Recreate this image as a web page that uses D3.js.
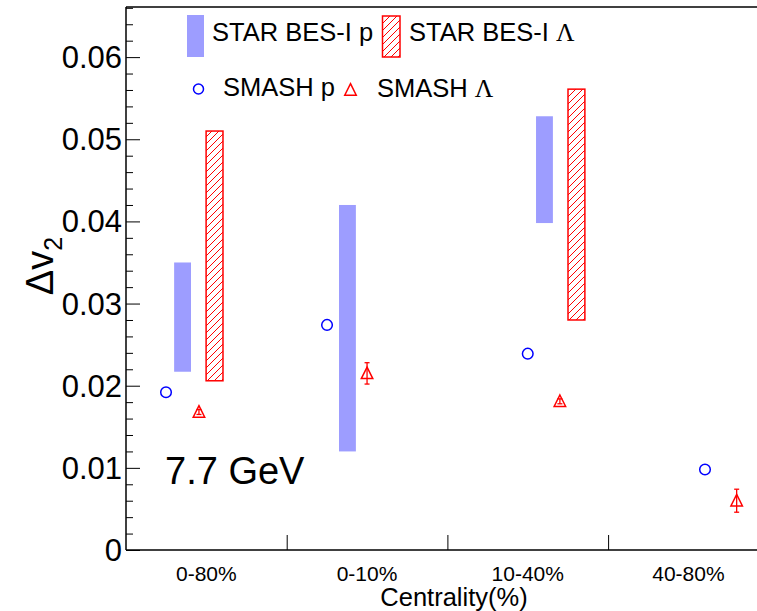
<!DOCTYPE html>
<html>
<head>
<meta charset="utf-8">
<script src="https://cdn.jsdelivr.net/npm/d3@7"></script>
<style>
  html, body { margin: 0; padding: 0; background: #fff; }
  svg { display: block; }
  text { font-family: "Liberation Sans", Arial, sans-serif; fill: #000; }
</style>
</head>
<body>
<svg id="chart" width="757" height="611"></svg>
<script>
// ---------------- data ----------------
const categories = ["0-80%", "0-10%", "10-40%", "40-80%"];
const yTicks = [0, 0.01, 0.02, 0.03, 0.04, 0.05, 0.06];

// STAR BES-I proton (band: low/high), x in category-axis units
const starP_x  = [0.352, 1.378, 2.604];
const starP_lo = [0.0217, 0.0120, 0.0398];
const starP_hi = [0.0350, 0.0420, 0.0528];

// STAR BES-I Lambda (hatched band)
const starL_x  = [0.551, 2.803];
const starL_lo = [0.0206, 0.0280];
const starL_hi = [0.0510, 0.0561];

// SMASH proton
const smashP_x = [0.249, 1.251, 2.500, 3.603];
const smashP_y = [0.0192, 0.0274, 0.0239, 0.0098];

// SMASH Lambda (with statistical error)
const smashL_x   = [0.454, 1.500, 2.700, 3.800];
const smashL_y   = [0.0168, 0.0215, 0.0181, 0.0060];
const smashL_err = [0.0003, 0.0013, 0.0003, 0.0014];

// ---------------- layout ----------------
const svg = d3.select("#chart");
const mLeft = 126, mBottom = 550, mTop = 7;
const x = d3.scaleLinear().domain([0, 4]).range([mLeft, mLeft + 4 * 160.7]);
const y = d3.scaleLinear().domain([0, 0.0661]).range([mBottom, mTop]);
const barW = 0.105;
const blue = "#9d9dff";
const red = "#ff0000";

// hatch pattern
const defs = svg.append("defs");
const pat = defs.append("pattern")
  .attr("id", "hatch").attr("patternUnits", "userSpaceOnUse")
  .attr("width", 7).attr("height", 7);
pat.append("path").attr("d", "M-1,8 L8,-1 M-1,1 L1,-1 M6,8 L8,6")
  .attr("stroke", red).attr("stroke-width", 1);

// STAR p bands
svg.append("g").selectAll("rect").data(starP_x).join("rect")
  .attr("x", (d) => x(d - barW / 2))
  .attr("width", (d) => x(d + barW / 2) - x(d - barW / 2))
  .attr("y", (d, i) => y(starP_hi[i]))
  .attr("height", (d, i) => y(starP_lo[i]) - y(starP_hi[i]))
  .attr("fill", blue);

// STAR Lambda hatched bands
svg.append("g").selectAll("rect").data(starL_x).join("rect")
  .attr("x", (d) => x(d - barW / 2))
  .attr("width", (d) => x(d + barW / 2) - x(d - barW / 2))
  .attr("y", (d, i) => y(starL_hi[i]))
  .attr("height", (d, i) => y(starL_lo[i]) - y(starL_hi[i]))
  .attr("fill", "url(#hatch)").attr("stroke", red).attr("stroke-width", 1.5);

// SMASH p circles
svg.append("g").selectAll("circle").data(smashP_x).join("circle")
  .attr("cx", (d) => x(d)).attr("cy", (d, i) => y(smashP_y[i]))
  .attr("r", 5.3).attr("fill", "none").attr("stroke", "#0000ff").attr("stroke-width", 1.5);

// SMASH Lambda error bars + triangles
const triPath = (cx, cy, s) => {
  const h = s * 1.0;
  return `M${cx},${cy - h * 0.55} L${cx + s / 2},${cy + h * 0.45} L${cx - s / 2},${cy + h * 0.45} Z`;
};
const gL = svg.append("g");
smashL_x.forEach((d, i) => {
  const cx = x(d), cy = y(smashL_y[i]);
  const yt = y(smashL_y[i] + smashL_err[i]), yb = y(smashL_y[i] - smashL_err[i]);
  gL.append("line").attr("x1", cx).attr("x2", cx).attr("y1", yt).attr("y2", yb)
    .attr("stroke", red).attr("stroke-width", 1.3);
  [yt, yb].forEach(v => gL.append("line").attr("x1", cx - 2.5).attr("x2", cx + 2.5)
    .attr("y1", v).attr("y2", v).attr("stroke", red).attr("stroke-width", 1.3));
  gL.append("path").attr("d", triPath(cx, cy, 11.5))
    .attr("fill", "none").attr("stroke", red).attr("stroke-width", 1.5);
});

// ---------------- axes ----------------
const axisColor = "#000";
svg.append("line").attr("x1", mLeft).attr("x2", 757).attr("y1", mTop).attr("y2", mTop)
  .attr("stroke", axisColor).attr("stroke-width", 1.5);
svg.append("line").attr("x1", mLeft).attr("x2", mLeft).attr("y1", mTop).attr("y2", mBottom)
  .attr("stroke", axisColor).attr("stroke-width", 1.5);
svg.append("line").attr("x1", mLeft).attr("x2", 757).attr("y1", mBottom).attr("y2", mBottom)
  .attr("stroke", axisColor).attr("stroke-width", 1.5);

const yAxis = d3.axisRight(y).tickValues(yTicks).tickSize(14).tickFormat("");
const gy = svg.append("g").attr("transform", `translate(${mLeft},0)`).call(yAxis);
gy.select(".domain").remove();
gy.selectAll("line").attr("stroke", axisColor).attr("stroke-width", 1);
const minor = d3.range(0, 0.0661, 0.002).filter(v => Math.abs(v * 100 - Math.round(v * 100)) > 1e-6);
const gym = svg.append("g").attr("transform", `translate(${mLeft},0)`)
  .call(d3.axisRight(y).tickValues(minor).tickSize(7).tickFormat(""));
gym.select(".domain").remove();
gym.selectAll("line").attr("stroke", axisColor).attr("stroke-width", 1);

svg.append("g").selectAll("text").data(yTicks).join("text")
  .attr("x", mLeft - 4).attr("y", (d) => y(d) + 11)
  .attr("text-anchor", "end").attr("font-size", 31)
  .text((d) => d === 0 ? "0" : d3.format(".2f")(d));

const gx = svg.append("g").attr("transform", `translate(0,${mBottom})`)
  .call(d3.axisTop(x).tickValues([1, 2, 3]).tickSize(15).tickFormat(""));
gx.select(".domain").remove();
gx.selectAll("line").attr("stroke", axisColor).attr("stroke-width", 1);

svg.append("g").selectAll("text").data(categories).join("text")
  .attr("x", (d, i) => x(i + 0.5)).attr("y", 581)
  .attr("text-anchor", "middle").attr("font-size", 21)
  .text((d) => d);

svg.append("text").attr("x", 454).attr("y", 606).attr("text-anchor", "middle")
  .attr("font-size", 25.5).text("Centrality(%)");

const ytl = svg.append("text").attr("transform", "translate(53,266) rotate(-90)")
  .attr("text-anchor", "middle").attr("font-size", 38);
ytl.append("tspan").text("Δv");
ytl.append("tspan").attr("font-size", 25).attr("dy", 9).text("2");

svg.append("text").attr("x", 165).attr("y", 484).attr("font-size", 38).text("7.7 GeV");

// ---------------- legend ----------------
const lg = svg.append("g");
lg.append("rect").attr("x", 187).attr("y", 15).attr("width", 17).attr("height", 42).attr("fill", blue);
lg.append("text").attr("x", 212).attr("y", 41).attr("font-size", 25.5).text("STAR BES-I p");
lg.append("rect").attr("x", 382.5).attr("y", 16).attr("width", 17.5).attr("height", 41)
  .attr("fill", "url(#hatch)").attr("stroke", red).attr("stroke-width", 1.5);
const t2 = lg.append("text").attr("x", 409).attr("y", 41).attr("font-size", 25.5);
t2.append("tspan").text("STAR BES-I ");
t2.append("tspan").attr("font-family", "Liberation Serif, Times New Roman, serif").text("Λ");

lg.append("circle").attr("cx", 198.5).attr("cy", 89).attr("r", 5)
  .attr("fill", "none").attr("stroke", "#0000ff").attr("stroke-width", 1.5);
lg.append("text").attr("x", 223).attr("y", 96).attr("font-size", 25.5).text("SMASH p");
lg.append("path").attr("d", triPath(350.5, 90, 11.5))
  .attr("fill", "none").attr("stroke", red).attr("stroke-width", 1.5);
const t4 = lg.append("text").attr("x", 377).attr("y", 97).attr("font-size", 25.5);
t4.append("tspan").text("SMASH ");
t4.append("tspan").attr("font-family", "Liberation Serif, Times New Roman, serif").text("Λ");
</script>
</body>
</html>
